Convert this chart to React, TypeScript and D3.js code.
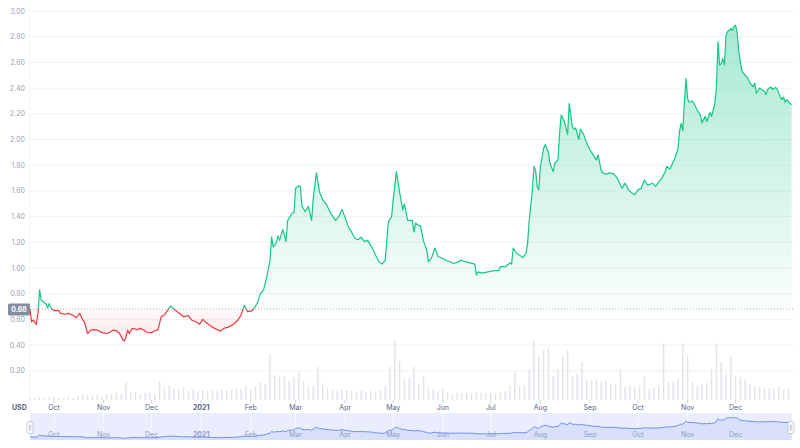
import React from "react";
import * as d3 from "d3";

const START_DATE = "2020-09-16";
const BASE_PRICE = 0.68;

// [day offset from START_DATE, price USD]
const pricePoints: [number, number][] = [
  [0, 0.68], [1, 0.58], [2, 0.595], [4, 0.56], [5, 0.65], [6, 0.83], [7, 0.75], [8, 0.74], [10, 0.72], [11, 0.69],
  [12, 0.725], [13, 0.69], [15, 0.668], [18, 0.668], [19, 0.647], [22, 0.64], [24, 0.647], [27, 0.63], [29, 0.613], [31, 0.647],
  [33, 0.595], [34, 0.58], [36, 0.49], [38, 0.517], [40, 0.52], [42, 0.517], [45, 0.497], [48, 0.49], [50, 0.5], [52, 0.517],
  [54, 0.512], [56, 0.49], [58, 0.44], [59, 0.432], [60, 0.465], [61, 0.517], [62, 0.49], [64, 0.53], [67, 0.52], [69, 0.53],
  [71, 0.517], [73, 0.5], [76, 0.497], [78, 0.512], [80, 0.52], [82, 0.62], [84, 0.635], [86, 0.67], [88, 0.705], [90, 0.68],
  [92, 0.66], [94, 0.64], [96, 0.62], [99, 0.63], [101, 0.595], [104, 0.58], [106, 0.563], [108, 0.6], [110, 0.575], [114, 0.54],
  [117, 0.52], [119, 0.51], [121, 0.53], [124, 0.54], [127, 0.56], [130, 0.595], [132, 0.635], [134, 0.71], [136, 0.66], [139, 0.668],
  [142, 0.725], [144, 0.8], [146, 0.83], [148, 0.93], [150, 1.06], [151, 1.24], [152, 1.165], [154, 1.2], [155, 1.25], [156, 1.215],
  [158, 1.3], [160, 1.205], [161, 1.37], [164, 1.43], [165, 1.43], [166, 1.62], [168, 1.64], [169, 1.635], [170, 1.48], [172, 1.44],
  [174, 1.48], [176, 1.37], [177, 1.54], [179, 1.74], [181, 1.59], [183, 1.53], [185, 1.5], [188, 1.425], [191, 1.37], [193, 1.4],
  [195, 1.455], [197, 1.39], [199, 1.32], [201, 1.28], [203, 1.23], [205, 1.22], [207, 1.24], [209, 1.205], [211, 1.215], [214, 1.155],
  [216, 1.1], [218, 1.05], [220, 1.03], [222, 1.06], [224, 1.36], [226, 1.4], [227, 1.53], [229, 1.75], [231, 1.59], [233, 1.45],
  [234, 1.5], [236, 1.37], [239, 1.37], [240, 1.28], [241, 1.35], [243, 1.33], [244, 1.33], [246, 1.205], [248, 1.14], [249, 1.05],
  [251, 1.08], [253, 1.155], [255, 1.09], [257, 1.08], [260, 1.06], [265, 1.035], [268, 1.05], [269, 1.06], [272, 1.05], [275, 1.04],
  [278, 1.03], [279, 0.945], [280, 0.97], [283, 0.96], [286, 0.97], [290, 0.98], [293, 0.98], [294, 1.01], [297, 1.01], [300, 1.04],
  [301, 1.03], [302, 1.155], [304, 1.115], [306, 1.1], [308, 1.08], [310, 1.115], [311, 1.19], [312, 1.37], [314, 1.61], [315, 1.79],
  [316, 1.76], [317, 1.63], [318, 1.61], [319, 1.79], [321, 1.93], [322, 1.96], [324, 1.9], [325, 1.815], [327, 1.75], [328, 1.815],
  [330, 1.84], [331, 2.05], [332, 2.19], [334, 2.14], [336, 2.04], [337, 2.28], [339, 2.1], [340, 2.08], [341, 2.09], [343, 2.0],
  [344, 2.08], [346, 2.04], [348, 1.97], [350, 1.92], [352, 1.88], [354, 1.84], [355, 1.88], [357, 1.76], [358, 1.74], [360, 1.73],
  [362, 1.74], [365, 1.73], [367, 1.7], [369, 1.645], [370, 1.62], [372, 1.66], [374, 1.61], [376, 1.585], [378, 1.57], [380, 1.61],
  [382, 1.62], [384, 1.685], [386, 1.645], [389, 1.66], [391, 1.635], [393, 1.67], [395, 1.7], [397, 1.75], [398, 1.79], [400, 1.77],
  [401, 1.8], [403, 1.85], [405, 1.93], [406, 2.07], [407, 2.125], [408, 2.07], [409, 2.29], [410, 2.475], [411, 2.32], [412, 2.29],
  [414, 2.3], [415, 2.28], [417, 2.23], [419, 2.19], [420, 2.13], [422, 2.18], [423, 2.14], [425, 2.21], [426, 2.18], [428, 2.28],
  [429, 2.41], [430, 2.76], [431, 2.58], [432, 2.59], [433, 2.63], [434, 2.58], [435, 2.81], [436, 2.84], [437, 2.85], [438, 2.865],
  [439, 2.85], [440, 2.88], [441, 2.89], [442, 2.83], [443, 2.68], [445, 2.53], [447, 2.5], [448, 2.49], [450, 2.44], [452, 2.41],
  [453, 2.44], [454, 2.36], [456, 2.4], [457, 2.39], [459, 2.375], [460, 2.35], [461, 2.39], [463, 2.41], [464, 2.39], [466, 2.405],
  [467, 2.39], [469, 2.33], [470, 2.31], [471, 2.33], [472, 2.29], [473, 2.31], [475, 2.28], [476, 2.27],
];

// volume (M USD), one bar every VOLUME_STEP_DAYS days from START_DATE
const VOLUME_STEP_DAYS = 3;
const volumes: number[] = [
  8, 8, 12, 8, 8, 12, 8, 8, 12, 8,
  16, 20, 20, 16, 20, 16, 20, 24, 28, 24,
  68, 28, 32, 24, 28, 28, 24, 72, 48, 56,
  44, 40, 48, 36, 40, 36, 40, 36, 40, 36,
  40, 36, 40, 44, 40, 56, 40, 52, 68, 60,
  180, 96, 88, 92, 72, 88, 112, 72, 52, 56,
  128, 64, 44, 40, 36, 40, 36, 36, 32, 36,
  32, 36, 32, 40, 56, 128, 232, 148, 80, 88,
  128, 64, 92, 48, 40, 36, 40, 28, 24, 28,
  24, 28, 24, 32, 28, 24, 28, 24, 32, 36,
  56, 112, 52, 56, 120, 232, 168, 192, 200, 92,
  120, 172, 192, 92, 100, 148, 80, 76, 80, 68,
  72, 64, 60, 120, 52, 56, 48, 52, 92, 44,
  48, 56, 220, 68, 72, 80, 220, 172, 68, 56,
  60, 68, 120, 220, 148, 100, 172, 92, 88, 80,
  60, 52, 48, 44, 48, 44, 48, 40, 44,
];

const yTicks = [0.2, 0.4, 0.6, 0.8, 1.0, 1.2, 1.4, 1.6, 1.8, 2.0, 2.2, 2.4, 2.6, 2.8, 3.0];
const monthTicks = [
  "2020-10-01", "2020-11-01", "2020-12-01", "2021-01-01", "2021-02-01", "2021-03-01", "2021-04-01", "2021-05-01",
  "2021-06-01", "2021-07-01", "2021-08-01", "2021-09-01", "2021-10-01", "2021-11-01", "2021-12-01",
];
const monthLabels = ["Oct", "Nov", "Dec", "2021", "Feb", "Mar", "Apr", "May", "Jun", "Jul", "Aug", "Sep", "Oct", "Nov", "Dec"];

const W = 800;
const H = 448;
const FONT = "Inter, 'Noto Sans', sans-serif";

export default function App() {
  const start = new Date(START_DATE + "T00:00:00Z");
  const dayToDate = (d: number) => d3.utcDay.offset(start, d);
  const data = pricePoints.map(([d, p]) => ({ date: dayToDate(d), price: p }));

  const x = d3.scaleUtc().domain([start, dayToDate(476)]).range([30, 791.6]);
  const y = d3.scaleLinear().domain([0, 3]).range([396.5, 11]);
  const yBase = y(BASE_PRICE);

  const vol = d3.scaleLinear().domain([0, 240]).range([0, 62]);
  const volBottom = 400;

  const ny = d3.scaleLinear().domain([0.3, 2.95]).range([439.5, 417]);

  const line = d3.line<any>().x((d) => x(d.date)).y((d) => y(d.price)).curve(d3.curveLinear);
  const area = d3.area<any>().x((d) => x(d.date)).y0(yBase).y1((d) => y(d.price));
  const navLine = d3.line<any>().x((d) => x(d.date)).y((d) => ny(d.price));
  const navArea = d3.area<any>().x((d) => x(d.date)).y0(440).y1((d) => ny(d.price));

  const green = "#16c784";
  const red = "#ea3943";

  return (
    <svg width={W} height={H} style={{ position: "absolute", left: 0, top: 0, background: "#fff" }} fontFamily={FONT}>
      <defs>
        <clipPath id="above">
          <rect x={0} y={0} width={W} height={yBase} />
        </clipPath>
        <clipPath id="below">
          <rect x={0} y={yBase} width={W} height={H - yBase} />
        </clipPath>
        <linearGradient id="gfill" gradientUnits="userSpaceOnUse" x1={0} y1={y(2.9)} x2={0} y2={yBase}>
          <stop offset="0%" stopColor={green} stopOpacity={0.38} />
          <stop offset="100%" stopColor={green} stopOpacity={0.02} />
        </linearGradient>
        <linearGradient id="rfill" gradientUnits="userSpaceOnUse" x1={0} y1={yBase} x2={0} y2={y(0.43)}>
          <stop offset="0%" stopColor={red} stopOpacity={0.03} />
          <stop offset="100%" stopColor={red} stopOpacity={0.12} />
        </linearGradient>
      </defs>

      {/* grid */}
      {yTicks.map((t) => (
        <line key={t} x1={30} x2={793} y1={y(t)} y2={y(t)} stroke="#eff2f5" strokeWidth={1} />
      ))}
      <line x1={29.5} x2={29.5} y1={5} y2={400} stroke="#f4f5f7" />
      {yTicks.map((t) => (
        <text key={"l" + t} x={25} y={y(t) + 2.5} fontSize={7} fill="#9aa2b4" textAnchor="end">
          {t.toFixed(2)}
        </text>
      ))}

      {/* volume */}
      {volumes.map((v, i) => (
        <rect
          key={"v" + i}
          x={x(dayToDate(i * VOLUME_STEP_DAYS)) - 0.7}
          y={volBottom - vol(v)}
          width={1.4}
          height={vol(v)}
          fill="#e0e3ea"
        />
      ))}

      {/* areas */}
      <path d={area(data) || ""} fill="url(#gfill)" clipPath="url(#above)" />
      <path d={area(data) || ""} fill="url(#rfill)" clipPath="url(#below)" />

      {/* baseline */}
      <line x1={30} x2={793} y1={yBase} y2={yBase} stroke="#a6acb9" strokeWidth={1} strokeDasharray="1,2" />

      {/* price line */}
      <path d={line(data) || ""} fill="none" stroke={green} strokeWidth={1.2} clipPath="url(#above)" strokeLinejoin="round" />
      <path d={line(data) || ""} fill="none" stroke={red} strokeWidth={1.2} clipPath="url(#below)" strokeLinejoin="round" />

      {/* base label */}
      <rect x={8} y={303.5} width={22} height={12} rx={1.5} fill="#858ca0" />
      <text x={19} y={yBase + 2.5} fontSize={7} fontWeight={700} fill="#fff" textAnchor="middle">
        {BASE_PRICE.toFixed(2)}
      </text>

      {/* x axis */}
      {monthTicks.map((m, i) => {
        const xx = x(new Date(m + "T00:00:00Z"));
        return (
          <g key={m}>
            <line x1={xx} x2={xx} y1={400} y2={403} stroke="#cfd3dc" />
            <text x={xx} y={410} fontSize={7} fill="#58667e" textAnchor="middle" fontWeight={monthLabels[i] === "2021" ? 700 : 400}>
              {monthLabels[i]}
            </text>
          </g>
        );
      })}
      <text x={12} y={410} fontSize={7} fill="#58667e" fontWeight={700}>USD</text>

      {/* navigator */}
      <rect x={30} y={413} width={762} height={27} fill="#e9edfd" />
      {monthTicks.map((m) => {
        const xx = x(new Date(m + "T00:00:00Z"));
        return <line key={"n" + m} x1={xx} x2={xx} y1={413} y2={440} stroke="#f6f7fe" strokeWidth={1} />;
      })}
      <path d={navArea(data) || ""} fill="#d3dcfa" opacity={0.8} />
      <path d={navLine(data) || ""} fill="none" stroke="#7090e8" strokeWidth={1} />
      {monthTicks.map((m, i) => {
        const xx = x(new Date(m + "T00:00:00Z"));
        return (
          <text key={"nl" + m} x={xx} y={436.5} fontSize={7} fill="#8e9cc4" textAnchor="middle" fontWeight={monthLabels[i] === "2021" ? 700 : 400}>
            {monthLabels[i]}
          </text>
        );
      })}
      {[30, 791].map((hx) => (
        <g key={"h" + hx}>
          <rect x={hx - 3} y={421.5} width={6} height={12} rx={2} fill="#fff" stroke="#b8bfcf" strokeWidth={0.8} />
          <line x1={hx - 0.6} x2={hx - 0.6} y1={424.5} y2={430.5} stroke="#9aa2b4" strokeWidth={0.6} />
          <line x1={hx + 0.8} x2={hx + 0.8} y1={424.5} y2={430.5} stroke="#9aa2b4" strokeWidth={0.6} />
        </g>
      ))}
    </svg>
  );
}
